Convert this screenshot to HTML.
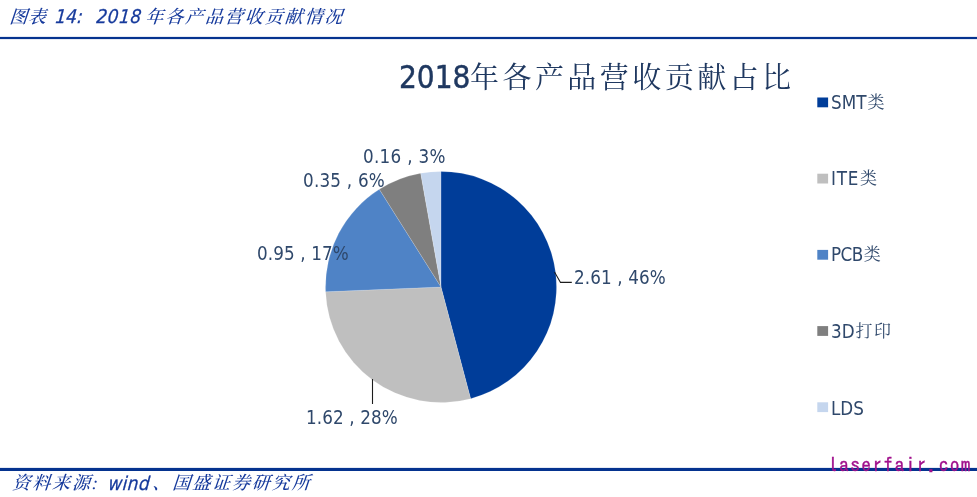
<!DOCTYPE html>
<html lang="zh-CN">
<head>
<meta charset="utf-8">
<title>图表 14: 2018 年各产品营收贡献情况</title>
<style>
  html, body { margin: 0; padding: 0; background: #ffffff; }
  body { width: 977px; height: 497px; position: relative; overflow: hidden;
         font-family: "DejaVu Sans Condensed", "Liberation Sans", "Noto Serif CJK SC", sans-serif; }
  .abs { position: absolute; white-space: nowrap; line-height: 1; will-change: transform; }
  .cjk { font-family: "Liberation Serif", "Noto Serif CJK SC", serif; }

  .cap { color: #163a9c; font-style: italic; font-size: 19px; height: 24px; left: 0; width: 400px; -webkit-text-stroke: 0.25px #163a9c; }
  .cap span { position: absolute; top: 0; white-space: nowrap; line-height: 24px; transform: skewX(-5deg); transform-origin: 0 75%; }
  .cap .cjk { font-size: 18px; letter-spacing: 1.9px; font-weight: 500; -webkit-text-stroke: 0; }
  #caption .cjk { top: 1px; }
  #caption { top: 4px; }
  #source  { top: 471px; }

  #ctitle { left: 398.6px; top: 57px; height: 40px; line-height: 40px; font-size: 31.2px; color: #1f3860; -webkit-text-stroke: 0.45px #1f3860; }
  #ctitle .cjk { font-size: 29px; letter-spacing: 3.45px; margin-left: -0.4px; -webkit-text-stroke: 0; }

  .lbl { font-size: 18.67px; color: #2f486b; letter-spacing: 0.12px; }
  .leg { font-size: 18.67px; color: #2f486b; left: 831px; height: 24px; line-height: 24px; }
  .leg .cjk { font-size: 17px; letter-spacing: 1.5px; margin-left: 1px; position: relative; top: -1px; }
  #wm { left: 828px; top: 455px; font-size: 19.5px; letter-spacing: 1.32px; color: #a0108c; -webkit-text-stroke: 0.35px #a0108c;
        font-family: "IPAGothic", "Liberation Mono", monospace; }
  svg { position: absolute; left: 0; top: 0; }
</style>
</head>
<body>
  <div id="caption" class="abs cap"><span class="cjk" id="c1" style="left:9px; letter-spacing:0.6px">图表</span> <span id="c2" style="left:55px">14:</span>  <span id="c3" style="left:96px; letter-spacing:0.5px">2018</span> <span class="cjk" id="c4" style="left:145px">年各产品营收贡献情况</span></div>

  <div id="ctitle" class="abs">2018<span class="cjk">年各产品营收贡献占比</span></div>

  <svg width="977" height="497" viewBox="0 0 977 497">
    <rect x="0" y="36.9" width="977" height="2.2" fill="#05338f"/>
    <rect x="0" y="467.9" width="977" height="3.1" fill="#05338f"/>
    <g stroke="#ffffff" stroke-width="0.15" stroke-linejoin="round">
      <path d="M441 287 L441.00 171.50 A115.5 115.5 0 0 1 470.64 398.63 Z" fill="#003d99"/>
      <path d="M441 287 L470.64 398.63 A115.5 115.5 0 0 1 325.60 291.78 Z" fill="#bfbfbf"/>
      <path d="M441 287 L325.60 291.78 A115.5 115.5 0 0 1 379.34 189.34 Z" fill="#4f83c6"/>
      <path d="M441 287 L379.34 189.34 A115.5 115.5 0 0 1 420.70 173.30 Z" fill="#7f7f7f"/>
      <path d="M441 287 L420.70 173.30 A115.5 115.5 0 0 1 441.00 171.50 Z" fill="#c5d6ee"/>
    </g>
    <g stroke="#1c1c1c" stroke-width="1.1" fill="none">
      <path d="M554.5 272 L560.5 282.4 L571.8 282.4"/>
      <path d="M372.5 379 L372.5 404"/>
    </g>
    <g>
      <rect x="817.3" y="97.5"  width="10.8" height="9.8" fill="#003d99"/>
      <rect x="817.3" y="173.7" width="10.8" height="9.8" fill="#bfbfbf"/>
      <rect x="817.3" y="249.9" width="10.8" height="9.8" fill="#4f83c6"/>
      <rect x="817.3" y="326.1" width="10.8" height="9.8" fill="#7f7f7f"/>
      <rect x="817.3" y="402.3" width="10.8" height="9.8" fill="#c5d6ee"/>
    </g>
  </svg>

  <div class="abs lbl" id="l1" style="left:574px; top:268.5px;">2.61 , 46%</div>
  <div class="abs lbl" id="l2" style="left:306px; top:408.7px;">1.62 , 28%</div>
  <div class="abs lbl" id="l3" style="left:257px; top:245.2px;">0.95 , 17%</div>
  <div class="abs lbl" id="l4" style="left:302.6px; top:171.5px; letter-spacing:0.22px;">0.35 , 6%</div>
  <div class="abs lbl" id="l5" style="left:362.7px; top:148.2px; letter-spacing:0.3px;">0.16 , 3%</div>

  <div class="abs leg" id="g1" style="top:90.5px;">SMT<span class="cjk">类</span></div>
  <div class="abs leg" id="g2" style="top:167px; letter-spacing:0.75px;">ITE<span class="cjk">类</span></div>
  <div class="abs leg" id="g3" style="top:243px; letter-spacing:-0.5px;">PCB<span class="cjk">类</span></div>
  <div class="abs leg" id="g4" style="top:320px;">3D<span class="cjk">打印</span></div>
  <div class="abs leg" id="g5" style="top:397px;">LDS</div>

  <div id="wm" class="abs">laserfair.com</div>
  <div id="source" class="abs cap"><span class="cjk" id="s1" style="left:11.5px">资料来源:</span> <span id="s2" style="left:108.3px; letter-spacing:0.3px">wind</span><span class="cjk" id="s3" style="left:152px">、</span><span class="cjk" id="s4" style="left:171.5px">国盛证券研究所</span></div>
</body>
</html>
